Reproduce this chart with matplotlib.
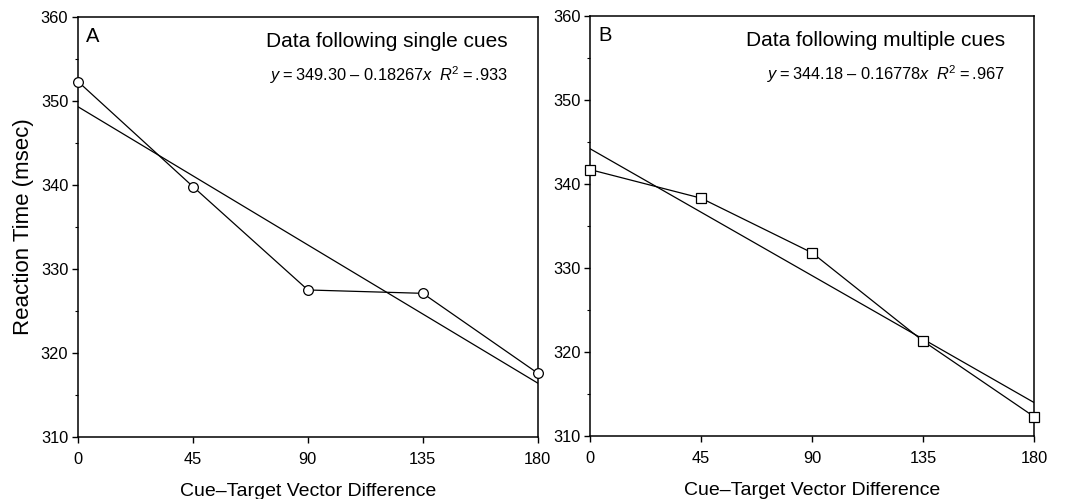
import numpy as np
import matplotlib.pyplot as plt
from matplotlib.ticker import MultipleLocator

plt.rcParams['font.family'] = ['Liberation Sans', 'DejaVu Sans']
plt.rcParams['mathtext.fontset'] = 'custom'
plt.rcParams['mathtext.rm'] = 'Liberation Sans'
plt.rcParams['mathtext.it'] = 'Liberation Sans:italic'

# cue-target vector difference (deg)
x_vals = [0, 45, 90, 135, 180]

# reaction times (msec)
rt_single = [352.3, 339.8, 327.5, 327.1, 317.6]
rt_multiple = [341.7, 338.3, 331.8, 321.3, 312.3]

# regression coefficients shown on the panels
fit_single = (349.30, -0.18267, '.933')
fit_multiple = (344.18, -0.16778, '.967')

panel_letters = ['A', 'B']
panel_titles = ['Data following single cues', 'Data following multiple cues']

fig = plt.figure(figsize=(10.69, 4.99), dpi=100)
ax_a = fig.add_axes([0.073, 0.1242, 0.430, 0.842])
ax_b = fig.add_axes([0.552, 0.1263, 0.4153, 0.842])

panels = [
    (ax_a, rt_single, fit_single, 'o', 7),
    (ax_b, rt_multiple, fit_multiple, 's', 7.8),
]

for i, (ax, rt, fit, marker, ms) in enumerate(panels):
    b0, b1, r2 = fit
    xs = np.array([x_vals[0], x_vals[-1]])
    ax.plot(xs, b0 + b1 * xs, color='black', lw=0.9, zorder=2)
    ax.plot(x_vals, rt, color='black', lw=0.9, marker=marker, ms=ms,
            mfc='white', mec='black', mew=0.9, zorder=3, clip_on=False)

    ax.set_xlim(0, 180)
    ax.set_ylim(310, 360)
    ax.set_xticks(x_vals)
    ax.yaxis.set_major_locator(MultipleLocator(10))
    ax.yaxis.set_minor_locator(MultipleLocator(5))
    ax.tick_params(axis='both', which='major', direction='out', length=4,
                   width=1, labelsize=11.8, color='black')
    ax.tick_params(axis='x', which='major', pad=7)
    ax.tick_params(axis='y', which='major', pad=3)
    ax.tick_params(axis='y', which='minor', direction='out', length=2.5, width=0.8)
    for sp in ax.spines.values():
        sp.set_linewidth(1.1)

    ax.set_xlabel('Cue\u2013Target Vector Difference', fontsize=14, labelpad=11.5)

    ax.text(0.018, 0.975, panel_letters[i], transform=ax.transAxes,
            fontsize=14.5, ha='left', va='top')
    ax.text(0.935, 0.964, panel_titles[i], transform=ax.transAxes,
            fontsize=15, ha='right', va='top')
    eq = (r'$y$' + '\u2009=\u2009%.2f \u2013 %.5f' % (b0, -b1) + r'$x$' + '  '
          + r'$R$' + r'$^{2}$' + '\u2009=\u2009' + r2)
    ax.text(0.935, 0.888, eq, transform=ax.transAxes,
            fontsize=11.8, ha='right', va='top')

ax_a.set_ylabel('Reaction Time (msec)', fontsize=16, labelpad=5)

fig.savefig('out.png', dpi=100)
